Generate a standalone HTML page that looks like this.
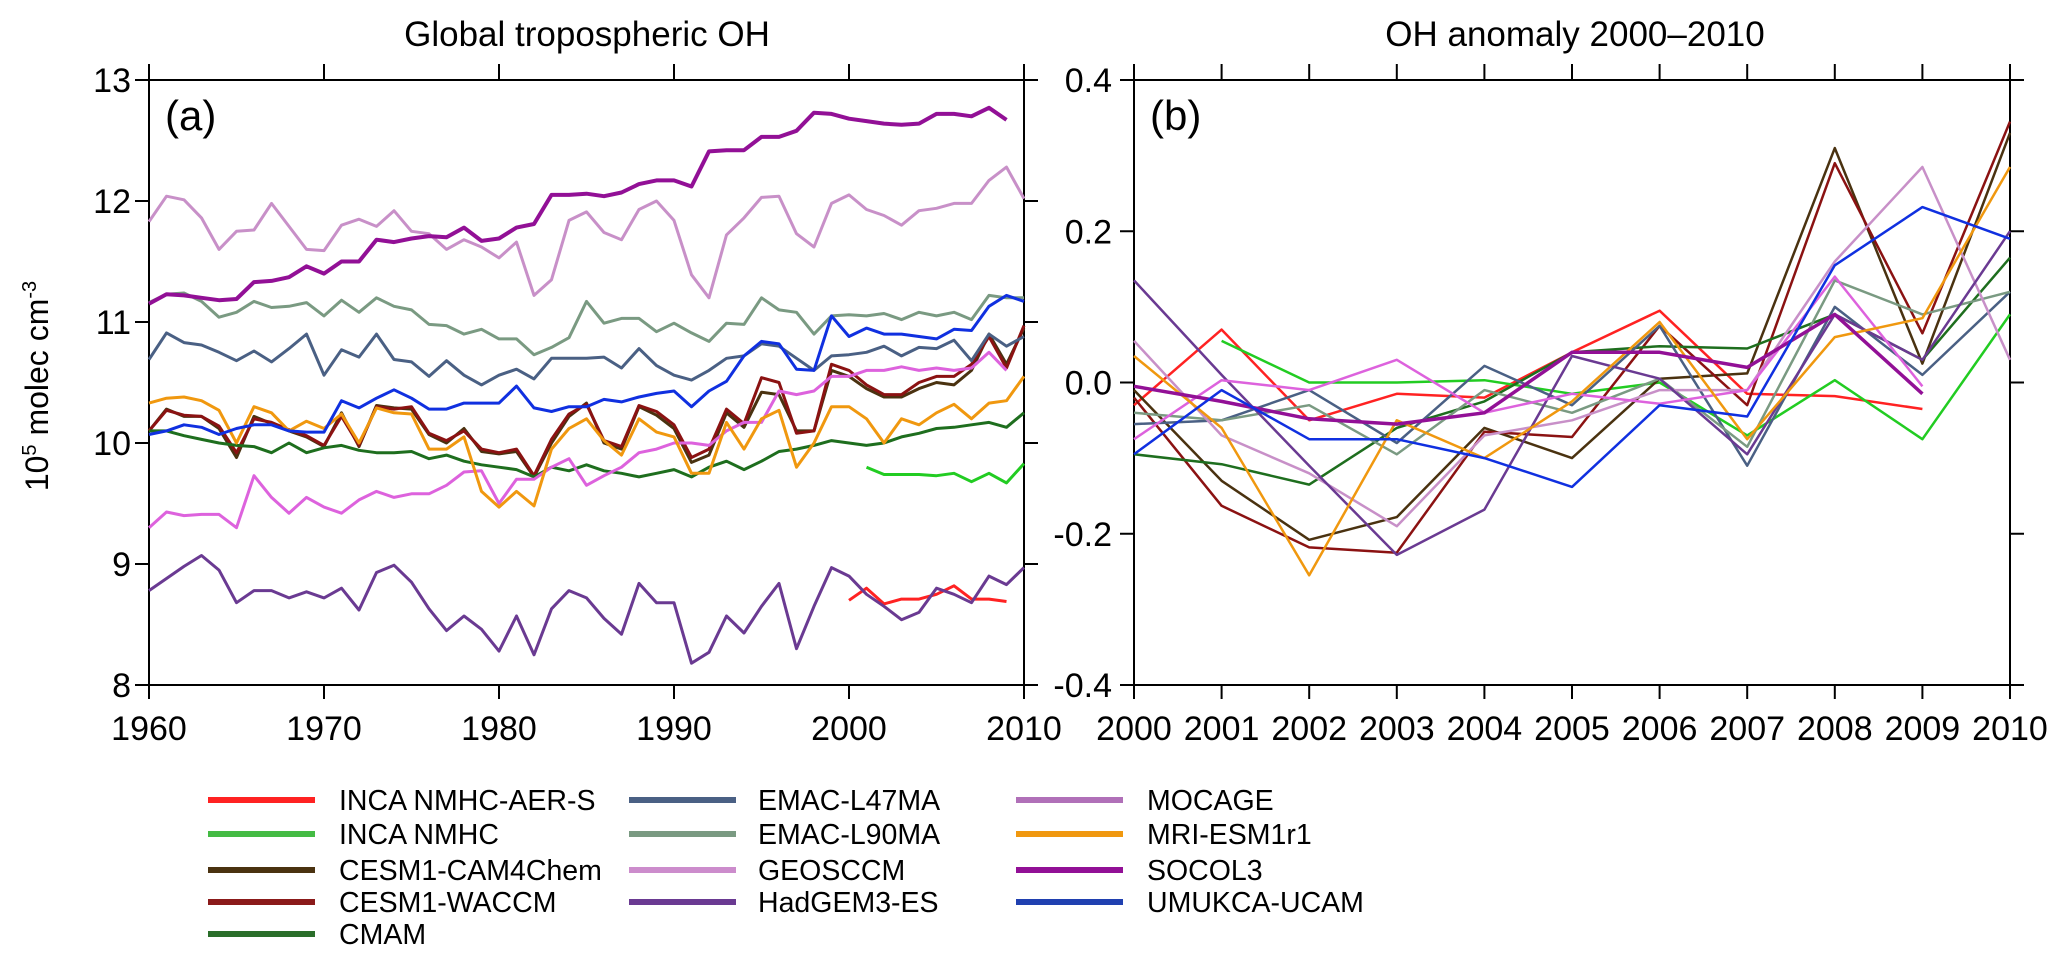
<!DOCTYPE html>
<html><head><meta charset="utf-8"><style>
html,body{margin:0;padding:0;background:#fff;}
svg{display:block;font-family:"Liberation Sans",Arial,sans-serif;}
</style></head><body>
<svg id="chart" width="2067" height="962" viewBox="0 0 2067 962">
<text x="587" y="46" font-size="35" text-anchor="middle">Global tropospheric OH</text>
<text x="1575" y="46" font-size="35" text-anchor="middle">OH anomaly 2000–2010</text>
<text x="165" y="130" font-size="42">(a)</text>
<text x="1150" y="130" font-size="42">(b)</text>
<text transform="translate(48,386) rotate(-90)" font-size="32" text-anchor="middle">10<tspan dy="-12" font-size="20">5</tspan><tspan dy="12"> molec cm</tspan><tspan dy="-12" font-size="20">-3</tspan></text>
<g id="gA"></g><g id="gB"></g><g id="legend"></g>
</svg>
<script>
const yearsA = [];
for (let y = 1960; y <= 2010; y++) yearsA.push(y);
const yearsB = [2000,2001,2002,2003,2004,2005,2006,2007,2008,2009,2010];
const ticksA_x = [1960,1970,1980,1990,2000,2010];
const ticksA_y = [8,9,10,11,12,13];
const ticksB_y = [-0.4,-0.2,0.0,0.2,0.4];
const tickLabelsB_y = ["-0.4","-0.2","0.0","0.2","0.4"];

const socol3A = [11.15,11.23,11.22,11.2,11.18,11.19,11.33,11.34,11.37,11.46,11.4,11.5,11.5,11.68,11.66,11.69,11.71,11.7,11.78,11.67,11.69,11.78,11.81,12.05,12.05,12.06,12.04,12.07,12.14,12.17,12.17,12.12,12.41,12.42,12.42,12.53,12.53,12.58,12.73,12.72,12.68,12.66,12.64,12.63,12.64,12.72,12.72,12.7,12.77,12.67,null];
const geosA = [11.83,12.04,12.01,11.86,11.6,11.75,11.76,11.98,11.79,11.6,11.59,11.8,11.85,11.79,11.92,11.75,11.73,11.6,11.68,11.62,11.53,11.66,11.22,11.35,11.84,11.91,11.74,11.68,11.93,12.0,11.84,11.39,11.2,11.72,11.86,12.03,12.04,11.73,11.62,11.98,12.05,11.93,11.88,11.8,11.92,11.94,11.98,11.98,12.17,12.28,12.02];
const l90A = [11.16,11.23,11.24,11.17,11.04,11.08,11.17,11.12,11.13,11.16,11.05,11.18,11.08,11.2,11.13,11.1,10.98,10.97,10.9,10.94,10.86,10.86,10.73,10.79,10.87,11.17,10.99,11.03,11.03,10.92,10.99,10.91,10.84,10.99,10.98,11.2,11.1,11.08,10.9,11.05,11.06,11.05,11.07,11.02,11.08,11.05,11.08,11.02,11.22,11.2,11.2];
const l47A = [10.69,10.91,10.83,10.81,10.75,10.68,10.76,10.67,10.78,10.9,10.56,10.77,10.71,10.9,10.69,10.67,10.55,10.68,10.56,10.48,10.56,10.61,10.53,10.7,10.7,10.7,10.71,10.62,10.78,10.64,10.56,10.52,10.6,10.7,10.72,10.82,10.8,10.7,10.6,10.72,10.73,10.75,10.8,10.72,10.79,10.78,10.85,10.68,10.9,10.8,10.88];
const umukcaA = [10.07,10.1,10.15,10.13,10.07,10.12,10.15,10.15,10.1,10.09,10.09,10.35,10.29,10.37,10.44,10.37,10.28,10.28,10.33,10.33,10.33,10.47,10.29,10.26,10.3,10.3,10.36,10.34,10.38,10.41,10.43,10.3,10.43,10.51,10.72,10.84,10.82,10.61,10.6,11.05,10.88,10.95,10.9,10.9,10.88,10.86,10.94,10.93,11.13,11.22,11.17];
const camA = [10.1,10.28,10.22,10.22,10.12,9.88,10.22,10.16,10.1,10.05,9.97,10.25,9.97,10.31,10.29,10.28,10.07,10.0,10.12,9.93,9.91,9.93,9.72,10.0,10.22,10.33,10.0,9.95,10.3,10.23,10.12,9.84,9.9,10.25,10.13,10.42,10.4,10.1,10.1,10.6,10.55,10.45,10.38,10.38,10.45,10.5,10.48,10.6,10.9,10.65,10.95];
const waccmA = [10.1,10.27,10.23,10.22,10.14,9.92,10.2,10.17,10.11,10.06,9.98,10.22,9.98,10.3,10.28,10.3,10.08,10.02,10.1,9.95,9.92,9.95,9.73,10.03,10.24,10.32,10.02,9.97,10.31,10.26,10.15,9.88,9.95,10.28,10.16,10.54,10.5,10.08,10.1,10.65,10.6,10.48,10.4,10.4,10.5,10.55,10.55,10.65,10.88,10.62,10.97];
const mriA = [10.33,10.37,10.38,10.35,10.27,10.0,10.3,10.25,10.1,10.18,10.12,10.24,10.0,10.29,10.25,10.24,9.95,9.95,10.05,9.6,9.47,9.6,9.48,9.95,10.12,10.2,10.02,9.9,10.2,10.09,10.05,9.75,9.75,10.17,9.95,10.2,10.27,9.8,10.0,10.3,10.3,10.2,10.0,10.2,10.15,10.25,10.32,10.2,10.33,10.35,10.55];
const cmamA = [10.1,10.1,10.06,10.03,10.0,9.98,9.97,9.92,10.0,9.92,9.96,9.98,9.94,9.92,9.92,9.93,9.87,9.9,9.85,9.82,9.8,9.78,9.72,9.8,9.77,9.82,9.77,9.75,9.72,9.75,9.78,9.72,9.8,9.85,9.78,9.85,9.93,9.95,9.98,10.02,10.0,9.98,10.0,10.05,10.08,10.12,10.13,10.15,10.17,10.13,10.25];
const mocageA = [9.3,9.43,9.4,9.41,9.41,9.3,9.73,9.55,9.42,9.55,9.47,9.42,9.53,9.6,9.55,9.58,9.58,9.65,9.76,9.77,9.5,9.7,9.7,9.8,9.87,9.65,9.73,9.8,9.92,9.95,10.0,10.0,9.98,10.1,10.17,10.17,10.43,10.4,10.43,10.55,10.55,10.6,10.6,10.63,10.6,10.62,10.6,10.62,10.75,10.6,null];
const hadgemA = [8.78,8.88,8.98,9.07,8.95,8.68,8.78,8.78,8.72,8.77,8.72,8.8,8.62,8.93,8.99,8.85,8.63,8.45,8.57,8.46,8.28,8.57,8.25,8.63,8.78,8.72,8.55,8.42,8.84,8.68,8.68,8.18,8.27,8.57,8.43,8.65,8.84,8.3,8.65,8.97,8.9,8.75,8.65,8.54,8.6,8.8,8.75,8.68,8.9,8.83,8.97];
const incaAerA = Array(40).fill(null).concat([8.7,8.8,8.67,8.71,8.71,8.75,8.82,8.71,8.71,8.69,null]);
const incaA = Array(41).fill(null).concat([9.8,9.74,9.74,9.74,9.73,9.75,9.68,9.75,9.67,9.83]);

const incaAerB = [-0.03,0.07,-0.05,-0.015,-0.02,0.04,0.095,-0.015,-0.018,-0.035,null];
const incaB = [null,0.055,0.0,0.0,0.003,-0.015,0.0,-0.07,0.003,-0.075,0.09];
const camB = [-0.01,-0.13,-0.208,-0.178,-0.06,-0.1,0.005,0.012,0.31,0.025,0.33];
const waccmB = [-0.02,-0.163,-0.218,-0.225,-0.065,-0.072,0.075,-0.03,0.29,0.065,0.345];
const cmamB = [-0.095,-0.108,-0.135,-0.06,-0.025,0.04,0.048,0.045,0.09,0.03,0.165];
const l47B = [-0.055,-0.05,-0.01,-0.08,0.022,-0.03,0.075,-0.11,0.1,0.01,0.12];
const l90B = [-0.04,-0.05,-0.03,-0.095,-0.01,-0.04,0.005,-0.085,0.135,0.09,0.12];
const geosB = [0.055,-0.07,-0.12,-0.19,-0.07,-0.05,-0.01,-0.01,0.16,0.285,0.03];
const hadgemB = [0.135,0.01,-0.11,-0.228,-0.168,0.035,0.005,-0.095,0.09,0.03,0.2];
const mocageB = [-0.075,0.003,-0.01,0.03,-0.04,-0.015,-0.028,-0.01,0.14,-0.005,null];
const mriB = [0.035,-0.06,-0.255,-0.05,-0.1,-0.025,0.08,-0.075,0.06,0.085,0.285];
const socol3B = [-0.005,-0.025,-0.048,-0.055,-0.04,0.04,0.04,0.02,0.09,-0.015,null];
const umukcaB = [-0.095,-0.01,-0.075,-0.075,-0.1,-0.138,-0.03,-0.045,0.155,0.232,0.19];

const models = [
 {n:"INCA NMHC-AER-S",k:"inca-nmhc-aer-s",c:"#ff2222",lc:"#ff2222",a:incaAerA,b:incaAerB},
 {n:"INCA NMHC",k:"inca-nmhc",c:"#22cc22",lc:"#44bb44",a:incaA,b:incaB},
 {n:"CESM1-CAM4Chem",k:"cesm1-cam4chem",c:"#4a3210",lc:"#4a3210",a:camA,b:camB},
 {n:"CESM1-WACCM",k:"cesm1-waccm",c:"#8b1212",lc:"#8b1a1a",a:waccmA,b:waccmB},
 {n:"CMAM",k:"cmam",c:"#1e6e1e",lc:"#2a6e2a",a:cmamA,b:cmamB},
 {n:"EMAC-L47MA",k:"emac-l47ma",c:"#4a6084",lc:"#4a6084",a:l47A,b:l47B},
 {n:"EMAC-L90MA",k:"emac-l90ma",c:"#7a9a82",lc:"#7a9a82",a:l90A,b:l90B},
 {n:"GEOSCCM",k:"geosccm",c:"#c890c8",lc:"#cc8ccc",a:geosA,b:geosB},
 {n:"HadGEM3-ES",k:"hadgem3-es",c:"#6a3a92",lc:"#6a3a92",a:hadgemA,b:hadgemB},
 {n:"MOCAGE",k:"mocage",c:"#dd62dd",lc:"#b070b8",a:mocageA,b:mocageB},
 {n:"MRI-ESM1r1",k:"mri-esm1r1",c:"#f0980f",lc:"#f0980f",a:mriA,b:mriB},
 {n:"SOCOL3",k:"socol3",c:"#921096",lc:"#921096",a:socol3A,b:socol3B,w:4},
 {n:"UMUKCA-UCAM",k:"umukca-ucam",c:"#1030e0",lc:"#2040b0",a:umukcaA,b:umukcaB}
];

const NS="http://www.w3.org/2000/svg";
function mk(tag, attrs, parent){const e=document.createElementNS(NS,tag);for(const k in attrs)e.setAttribute(k,attrs[k]);parent.appendChild(e);return e;}
const plotTop=80, plotBot=685;
const A={x0:149,x1:1024}, B={x0:1134,x1:2010};
const xA=v=>A.x0+(v-1960)/50*(A.x1-A.x0);
const yA=v=>plotBot-(v-8)/5*(plotBot-plotTop);
const xB=v=>B.x0+(v-2000)/10*(B.x1-B.x0);
const yB=v=>plotBot-(v+0.4)/0.8*(plotBot-plotTop);

function pathFrom(xs, ys, fx, fy){let d="",pen=false;for(let i=0;i<xs.length;i++){const v=ys[i];if(v===null||v===undefined){pen=false;continue;}d+=(pen?"L":"M")+fx(xs[i]).toFixed(1)+","+fy(v).toFixed(1);pen=true;}return d;}

function frame(g,P,name){
  const r=mk("rect",{x:P.x0,y:plotTop,width:P.x1-P.x0,height:plotBot-plotTop,fill:"none",stroke:"#000","stroke-width":2},g);
  
  
}
const gA=document.getElementById("gA"), gB=document.getElementById("gB");
frame(gA,A,"panel-a");frame(gB,B,"panel-b");

ticksA_x.forEach(t=>{
  const x=xA(t);
  mk("line",{x1:x,y1:plotTop,x2:x,y2:plotTop-16,stroke:"#000","stroke-width":2},gA);
  mk("line",{x1:x,y1:plotBot,x2:x,y2:plotBot+14,stroke:"#000","stroke-width":2},gA);
  const tx=mk("text",{x:x,y:740,"font-size":34,"text-anchor":"middle"},gA);tx.textContent=t;
  
  
});
ticksA_y.forEach(t=>{
  const y=yA(t);
  mk("line",{x1:A.x0,y1:y,x2:A.x0-14,y2:y,stroke:"#000","stroke-width":2},gA);
  mk("line",{x1:A.x1,y1:y,x2:A.x1+14,y2:y,stroke:"#000","stroke-width":2},gA);
  const tx=mk("text",{x:A.x0-18,y:y+12,"font-size":34,"text-anchor":"end"},gA);tx.textContent=t;
  
  
});
yearsB.forEach(t=>{
  const x=xB(t);
  mk("line",{x1:x,y1:plotTop,x2:x,y2:plotTop-16,stroke:"#000","stroke-width":2},gB);
  mk("line",{x1:x,y1:plotBot,x2:x,y2:plotBot+14,stroke:"#000","stroke-width":2},gB);
  const tx=mk("text",{x:x,y:740,"font-size":34,"text-anchor":"middle"},gB);tx.textContent=t;
  
  
});
ticksB_y.forEach((t,i)=>{
  const y=yB(t);
  mk("line",{x1:B.x0,y1:y,x2:B.x0-14,y2:y,stroke:"#000","stroke-width":2},gB);
  mk("line",{x1:B.x1,y1:y,x2:B.x1+14,y2:y,stroke:"#000","stroke-width":2},gB);
  const tx=mk("text",{x:B.x0-22,y:y+12,"font-size":34,"text-anchor":"end"},gB);tx.textContent=tickLabelsB_y[i];
  
  
});

models.forEach(m=>{
  const pa=mk("path",{d:pathFrom(yearsA,m.a,xA,yA),fill:"none",stroke:m.c,"stroke-width":m.w||3,"stroke-linejoin":"round"},gA);
  
  
  const pb=mk("path",{d:pathFrom(yearsB,m.b,xB,yB),fill:"none",stroke:m.c,"stroke-width":m.w?3.5:2.5,"stroke-linejoin":"round"},gB);
  
  
});

const lg=document.getElementById("legend");
const colX=[[208,339],[629,758],[1016,1147]];
const rowY=[800,834,870,902,934];
const layout=[5,4,4];
let idx=0;
layout.forEach((cnt,ci)=>{
  for(let r=0;r<cnt;r++){
    const m=models[idx++];
    const g=mk("g",{},lg);
    
    
    mk("line",{x1:colX[ci][0],y1:rowY[r],x2:colX[ci][0]+107,y2:rowY[r],stroke:m.lc,"stroke-width":6},g);
    const t=mk("text",{x:colX[ci][1],y:rowY[r]+10,"font-size":28.5},g);t.textContent=m.n;
  }
});
</script>
</body></html>
